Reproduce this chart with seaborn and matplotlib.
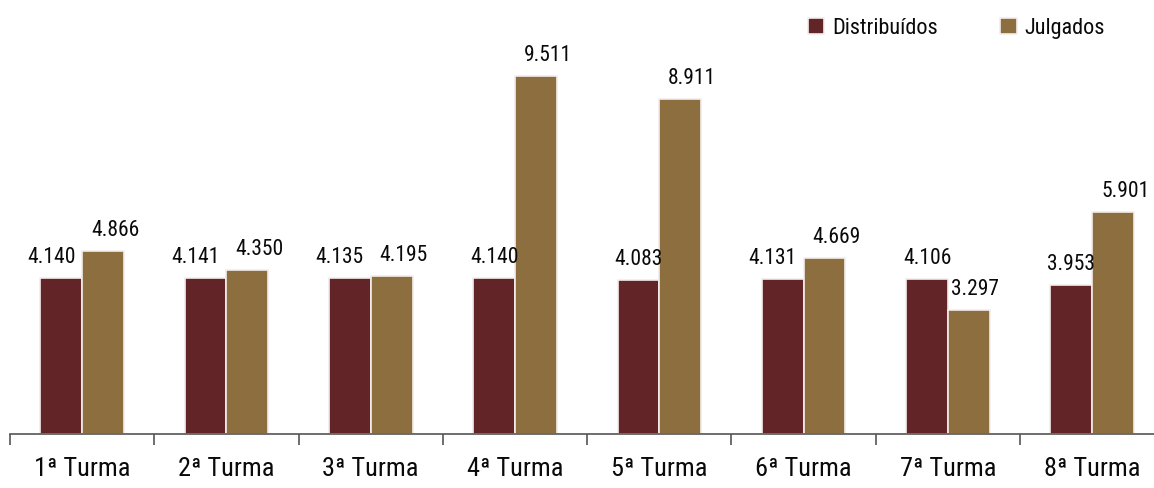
import matplotlib
matplotlib.use("Agg")
import matplotlib.pyplot as plt
import seaborn as sns
import pandas as pd
import numpy as np

turmas = ["1ª Turma", "2ª Turma", "3ª Turma", "4ª Turma",
          "5ª Turma", "6ª Turma", "7ª Turma", "8ª Turma"]
distribuidos = [4140, 4141, 4135, 4140, 4083, 4131, 4106, 3953]
julgados = [4866, 4350, 4195, 9511, 8911, 4669, 3297, 5901]
series = ["Distribuídos", "Julgados"]
colors = ["#622426", "#8c6e3f"]

sns.set_style("white")
plt.rcParams["font.family"] = ["Roboto Condensed", "DejaVu Sans"]
plt.rcParams["font.stretch"] = "condensed"

df = pd.DataFrame({
    "turma": turmas * 2,
    "valor": distribuidos + julgados,
    "serie": [series[0]] * len(turmas) + [series[1]] * len(turmas),
})

fig = plt.figure(figsize=(11.54, 4.88), dpi=100)
ax = fig.add_axes([10 / 1154, 54 / 488, 1154.4 / 1154, 414 / 488])

sns.barplot(data=df, x="turma", y="valor", hue="serie", palette=colors,
            saturation=1, width=0.58, edgecolor="#f4eeee", linewidth=1.2,
            ax=ax, legend=True)

ax.set_xlim(-0.5, 7.5)
ax.set_ylim(0, 11000)
ax.set_xlabel("")
ax.set_ylabel("")
ax.set_yticks([])
for s in ["left", "right", "top"]:
    ax.spines[s].set_visible(False)
ax.spines["bottom"].set_color("#555555")
ax.spines["bottom"].set_linewidth(1.2)

ax.tick_params(axis="x", which="major", bottom=False, pad=13, labelsize=19,
               labelcolor="#0a0a0a")
ax.set_xticks(np.arange(-0.5, 8, 1), minor=True)
ax.tick_params(axis="x", which="minor", bottom=True, length=8, width=1.2,
               color="#555555", direction="out")

def fmt(v):
    return f"{v:,}".replace(",", ".")

# data labels
for i, cont in enumerate(ax.containers):
    for j, bar in enumerate(cont):
        v = bar.get_height()
        xc = bar.get_x() + bar.get_width() / 2
        if i == 0:
            diff = julgados[j] - distribuidos[j]
            dx = -10 if 0 <= diff < 1500 else 0
        else:
            dx = 12 if julgados[j] >= distribuidos[j] else 6
        ax.annotate(fmt(int(v)), (xc, v), xytext=(dx, 10),
                    textcoords="offset pixels", ha="center", va="bottom",
                    fontsize=15.5, color="#0a0a0a")

handles, labels = ax.get_legend_handles_labels()
ax.legend_.remove()
fig.legend(handles, labels, loc="upper right", bbox_to_anchor=(0.975, 1.005),
           ncol=2, frameon=False, fontsize=16, handlelength=0.75,
           handleheight=0.75, handletextpad=0.35, columnspacing=2.8,
           labelcolor="#0a0a0a")

fig.savefig("out.png", dpi=100)
